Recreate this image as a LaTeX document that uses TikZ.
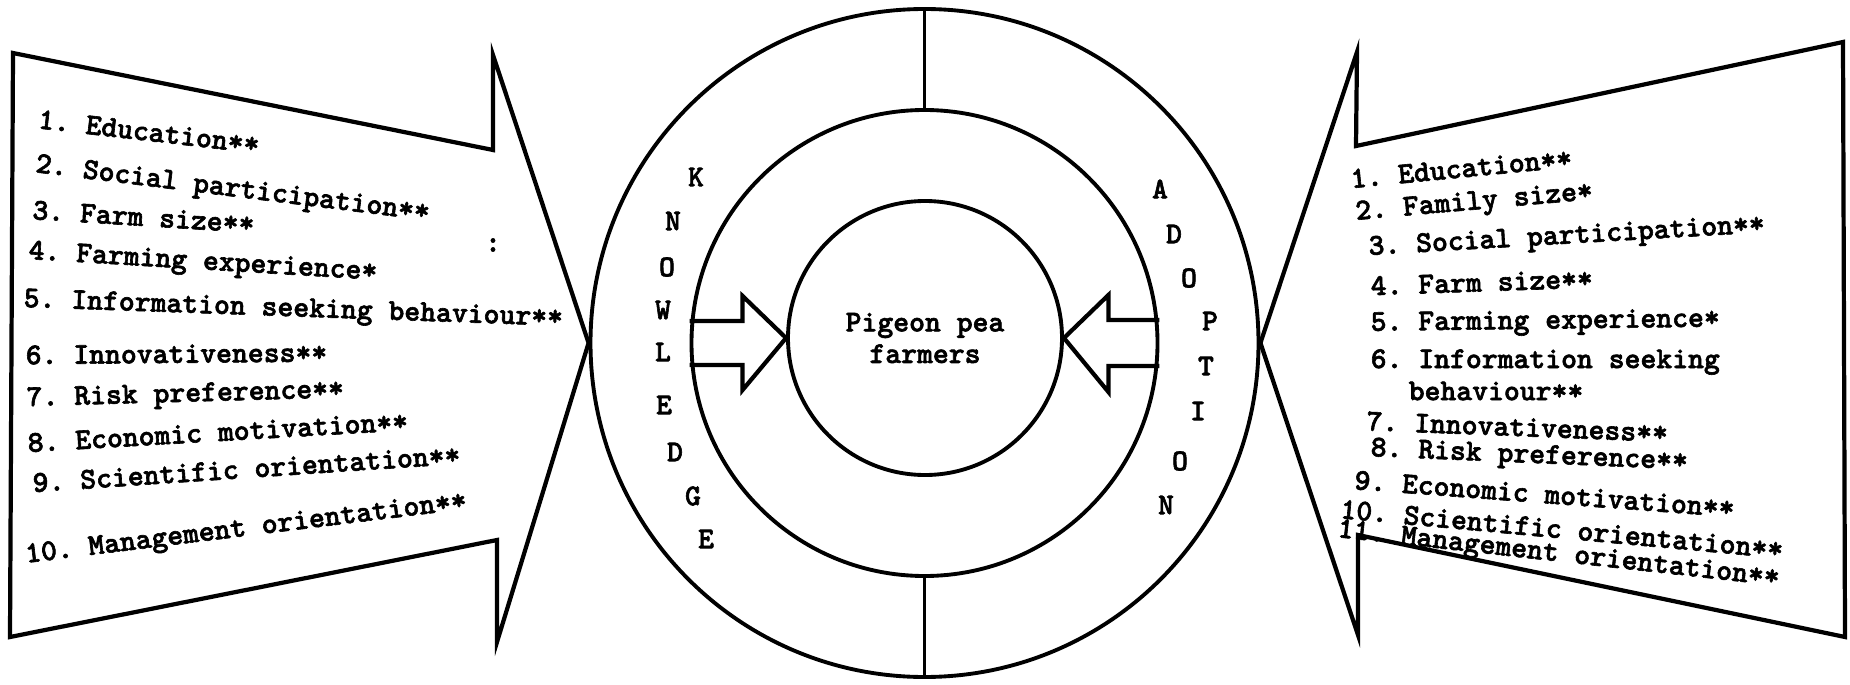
\documentclass[tikz,border=0pt]{standalone}
\usepackage{fontspec}
\usepackage{tikz}
\usetikzlibrary{calc}
\newfontfamily\typewriter{lmmonolt10-bold.otf}[FakeBold=2]
\newcommand{\typefont}{\fontsize{8.6}{9}\selectfont\typewriter\frenchspacing}
\tikzset{
  ring/.style={circle, draw, line width=1.1pt, inner sep=0pt},
  block/.style={line width=1.2pt, line join=miter},
  factor/.style={right, inner sep=0pt, font=\typefont},
  ringletter/.style={inner sep=0pt, font=\typefont}
}
\begin{document}
\begin{tikzpicture}
    \useasboundingbox (0,0) rectangle (18.5,-6.84);

    % Anillos centrales
    \node[ring, minimum size=6.68cm] (outer) at (9.245,-3.43) {};
    \node[ring, minimum size=4.66cm] (middle) at (9.245,-3.43) {};
    \node[ring, minimum size=2.74cm, align=center, font=\typefont] (core) at (9.25,-3.38) {Pigeon pea\\farmers};

    % Separadores
    \draw[line width=1.1pt] (outer.north) -- (middle.north);
    \draw[line width=1.1pt] (middle.south) -- (outer.south);

    % Flechas interiores
    \draw[block] ($(middle.west)+(0,0.22)$) -- ++(0.53,0) -- ++(0,0.25) -- (core.west)
        -- ($(middle.west)+(0.53,-0.47)$) -- ++(0,0.25) -- ($(middle.west)+(0,-0.22)$);
    \draw[block] ($(middle.east)+(0,0.23)$) -- ++(-0.51,0) -- ++(0,0.25) -- (core.east)
        -- ($(middle.east)+(-0.51,-0.49)$) -- ++(0,0.26) -- ($(middle.east)+(0,-0.23)$);

    % Flechas grandes
    \draw[block] (0.13,-0.53) -- (4.93,-1.50) -- (4.93,-0.55) -- (outer.west)
        -- (4.97,-6.42) -- (4.97,-5.40) -- (0.10,-6.37) -- cycle;
    \draw[block] (18.43,-0.42) -- (13.56,-1.46) -- (13.57,-0.52) -- (outer.east)
        -- (13.58,-6.35) -- (13.58,-5.35) -- (18.45,-6.37) -- cycle;

    % Letras del anillo
    \foreach \ch/\x/\y [count=\i] in {K/6.96/-1.77, N/6.73/-2.21, O/6.67/-2.67, W/6.63/-3.10,
        L/6.63/-3.52, E/6.64/-4.05, D/6.75/-4.52, G/6.93/-4.96, E/7.06/-5.39} {
        \node[ringletter] (kw\i) at (\x,\y) {\ch};
    }
    \foreach \ch/\x/\y [count=\i] in {A/11.60/-1.89, D/11.74/-2.34, O/11.89/-2.78, P/12.10/-3.21,
        T/12.06/-3.66, I/11.98/-4.11, O/11.80/-4.61, N/11.66/-5.05} {
        \node[ringletter] (ad\i) at (\x,\y) {\ch};
    }

    % Factores (izquierda)
    \foreach \x/\y/\r/\txt [count=\i] in {
        0.38/-1.19/-6.5/{1. Education**},
        0.35/-1.66/-7/{2. Social participation**},
        0.32/-2.10/-3.5/{3. Farm size**},
        0.28/-2.53/-3.4/{4. Farming experience*},
        0.23/-3.01/-2/{5. Information seeking behaviour**},
        0.25/-3.55/0.5/{6. Innovativeness**},
        0.26/-4.00/1.6/{7. Risk preference**},
        0.27/-4.43/3.3/{8. Economic motivation**},
        0.32/-4.83/3.8/{9. Scientific orientation**},
        0.25/-5.57/7/{10. Management orientation**}
    } {
        \node[factor, rotate=\r] (lf\i) at (\x,\y) {\txt};
    }
    \node[font=\typefont, inner sep=0pt] (speck) at (4.93,-2.45) {:};

    % Factores (derecha)
    \foreach \x/\y/\r/\txt [count=\i] in {
        13.50/-1.79/5.5/{1. Education**},
        13.55/-2.14/5/{2. Family size*},
        13.68/-2.49/3.3/{3. Social participation**},
        13.70/-2.86/2/{4. Farm size**},
        13.70/-3.25/0.7/{5. Farming experience*},
        13.70/-3.62/0/{6. Information seeking},
        14.08/-3.91/0/{behaviour**},
        13.66/-4.21/-2.2/{7. Innovativeness**},
        13.70/-4.50/-2.4/{8. Risk preference**},
        13.54/-4.80/-4.2/{9. Economic motivation**},
        13.40/-5.09/-5.2/{10. Scientific orientation**},
        13.37/-5.31/-6.3/{11. Management orientation**}
    } {
        \node[factor, rotate=\r] (rf\i) at (\x,\y) {\txt};
    }

\end{tikzpicture}
\end{document}
